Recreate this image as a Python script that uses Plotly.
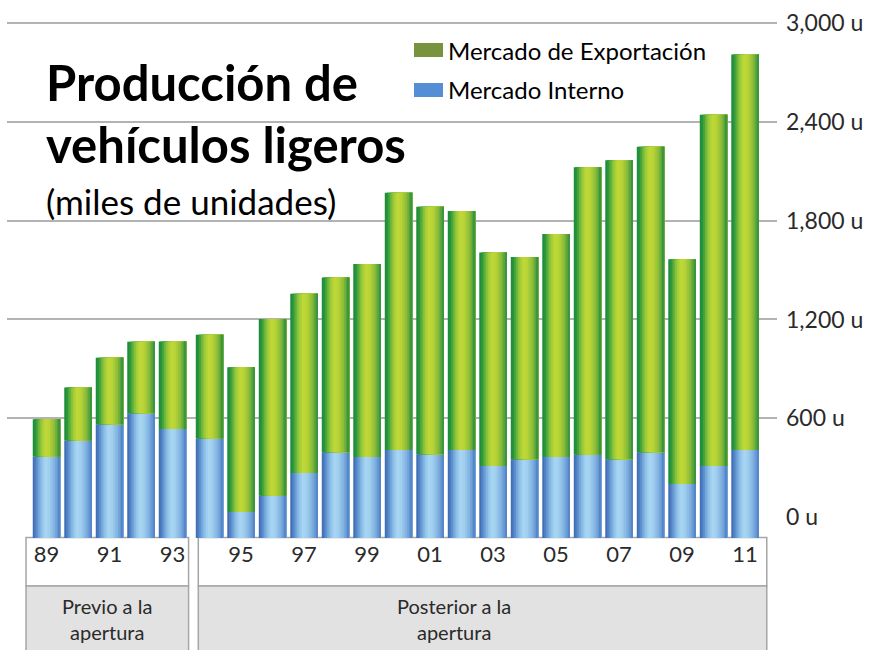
import plotly.graph_objects as go

# ---------------- data (miles de unidades) ----------------
YEARS = list(range(1989, 2012))
TOTAL = [594, 786, 968, 1065, 1066, 1107, 910, 1202, 1356, 1455, 1537, 1970,
         1885, 1859, 1607, 1579, 1719, 2124, 2167, 2249, 1565, 2444, 2810]
INTERNO = [367, 464, 563, 630, 534, 477, 31, 129, 267, 393, 365, 407,
           381, 407, 310, 351, 365, 378, 351, 393, 201, 310, 407]
EXPORT = [t - i for t, i in zip(TOTAL, INTERNO)]
TICK_YEARS = [1989, 1991, 1993, 1995, 1997, 1999, 2001, 2003, 2005, 2007, 2009, 2011]
TICK_TEXT = ["89", "91", "93", "95", "97", "99", "01", "03", "05", "07", "09", "11"]
Y_TICKS = [0, 600, 1200, 1800, 2400, 3000]
Y_TICK_TEXT = ["0 u", "600 u", "1,200 u", "1,800 u", "2,400 u", "3,000 u"]
GROUP_LABELS = ["Previo a la<br>apertura", "Posterior a la<br>apertura"]
OPENING_YEAR = 1994

# ---------------- layout constants ----------------
W, H = 879, 650
ML, MR, MT, MB = 7, 102, 20, 112
PW, PH = W - ML - MR, H - MT - MB
FLOOR = -127.5          # bars drawn from below the zero line, as in the original
Y_TOP = 3018.8
GROUP_GAP = 0.175
BAR_W = 0.873
N_STRIPS = 16

pos = [i + (GROUP_GAP if y >= OPENING_YEAR else 0) for i, y in enumerate(YEARS)]
X_RANGE = [-1.254, 23.19]


def px_x(p):
    return (p - ML) / PW


def px_y(p):
    return (H - MB - p) / PH


def hex2rgb(h):
    h = h.lstrip("#")
    return tuple(int(h[k:k + 2], 16) for k in (0, 2, 4))


def grad(stops, t):
    for (t0, c0), (t1, c1) in zip(stops, stops[1:]):
        if t0 <= t <= t1:
            f = (t - t0) / (t1 - t0) if t1 > t0 else 0
            a, b = hex2rgb(c0), hex2rgb(c1)
            return "rgb(%d,%d,%d)" % tuple(round(a[k] + (b[k] - a[k]) * f) for k in range(3))
    return stops[-1][1]


GREEN_STOPS = [(0.0, "#188a3c"), (0.10, "#2a963b"), (0.30, "#94c83a"), (0.45, "#c0d838"),
               (0.60, "#b8d436"), (0.80, "#8abb3a"), (0.93, "#4a9d3c"), (1.0, "#2f913c")]
BLUE_STOPS = [(0.0, "#3a68b0"), (0.10, "#4f80c4"), (0.30, "#88bce6"), (0.45, "#a8d6f2"),
              (0.60, "#a0cfee"), (0.80, "#7fb0e0"), (0.93, "#5f90d0"), (1.0, "#4f80c4")]

fig = go.Figure()

interno_h = [v - FLOOR for v in INTERNO]
floor_base = [FLOOR] * len(YEARS)

for series_y, series_base, stops in [(interno_h, floor_base, BLUE_STOPS),
                                     (EXPORT, INTERNO, GREEN_STOPS)]:
    for k in range(N_STRIPS):
        off = -BAR_W / 2 + k * BAR_W / N_STRIPS
        wid = BAR_W - k * BAR_W / N_STRIPS
        fig.add_trace(go.Bar(
            x=pos, y=series_y, base=series_base,
            offset=off, width=wid,
            marker=dict(color=grad(stops, (k + 0.5) / N_STRIPS), line=dict(width=0)),
            showlegend=False, hoverinfo="skip",
        ))

AXIS_FONT = dict(family="Lato, DejaVu Sans, sans-serif", size=22, color="#2a2a2a")

fig.update_layout(
    width=W, height=H,
    margin=dict(l=ML, r=MR, t=MT, b=MB),
    barmode="overlay",
    paper_bgcolor="white",
    plot_bgcolor="rgba(0,0,0,0)",
    showlegend=False,
    xaxis=dict(
        range=X_RANGE, showgrid=False, zeroline=False, showline=False,
        tickmode="array",
        tickvals=[pos[YEARS.index(y)] for y in TICK_YEARS],
        ticktext=TICK_TEXT, ticks="", tickfont=AXIS_FONT,
        ticklabelstandoff=1,
    ),
    yaxis=dict(
        range=[FLOOR, Y_TOP], side="right", zeroline=False, showline=False,
        tickmode="array", tickvals=Y_TICKS, ticktext=Y_TICK_TEXT,
        showgrid=False, ticks="", tickfont=dict(AXIS_FONT, size=23),
        ticklabelstandoff=8,
        minor=dict(tickmode="array", tickvals=Y_TICKS[1:], showgrid=True,
                   gridcolor="#b3b3b3", gridwidth=2, ticks=""),
    ),
)

# category boxes under the bars
BORDER = dict(color="#a6a6a6", width=1.5)
box_top, box_mid, box_bot = px_y(537.5), px_y(586), px_y(680)
boxes = [(pos[0] - 0.65, pos[4] + 0.51), (pos[5] - 0.356, pos[-1] + 0.69)]
for (x0, x1) in boxes:
    fig.add_shape(type="rect", xref="x", yref="paper", x0=x0, x1=x1, y0=box_mid, y1=box_top,
                  fillcolor="white", line=BORDER, layer="below")
    fig.add_shape(type="rect", xref="x", yref="paper", x0=x0, x1=x1, y0=box_bot, y1=box_mid,
                  fillcolor="#e2e2e2", line=BORDER, layer="below")
for cx, label in zip([107, 454], GROUP_LABELS):
    fig.add_annotation(x=px_x(cx), y=px_y(619), xref="paper", yref="paper",
                       xanchor="center", yanchor="middle",
                       text=label, showarrow=False,
                       font=dict(AXIS_FONT, size=20), align="center")

# title
TITLE_FONT = "Lato, Carlito, sans-serif"
fig.add_annotation(x=px_x(44), y=px_y(82), xref="paper", yref="paper", xanchor="left",
                   yanchor="middle", text="<b>Producción de</b>", showarrow=False,
                   font=dict(family=TITLE_FONT, size=49, color="black"))
fig.add_annotation(x=px_x(44), y=px_y(144), xref="paper", yref="paper", xanchor="left",
                   yanchor="middle", text="<b>vehículos ligeros</b>", showarrow=False,
                   font=dict(family=TITLE_FONT, size=49, color="black"))
fig.add_annotation(x=px_x(44), y=px_y(201), xref="paper", yref="paper", xanchor="left",
                   yanchor="middle", text="(miles de unidades)", showarrow=False,
                   font=dict(family=TITLE_FONT, size=35, color="black"))

# legend
for (y0, y1, col, txt) in [(43, 57, "#77933C", "Mercado de Exportación"),
                           (83, 97, "#558ED5", "Mercado Interno")]:
    fig.add_shape(type="rect", xref="paper", yref="paper",
                  x0=px_x(414), x1=px_x(443), y0=px_y(y1), y1=px_y(y0),
                  fillcolor=col, line=dict(width=0))
    fig.add_annotation(x=px_x(446), y=px_y((y0 + y1) / 2), xref="paper", yref="paper",
                       xanchor="left", yanchor="middle", text=txt, showarrow=False,
                       font=dict(family=TITLE_FONT, size=24, color="black"))

fig.write_html("out.html", config={"displayModeBar": False},
               post_script="document.body.style.margin='0px';")
